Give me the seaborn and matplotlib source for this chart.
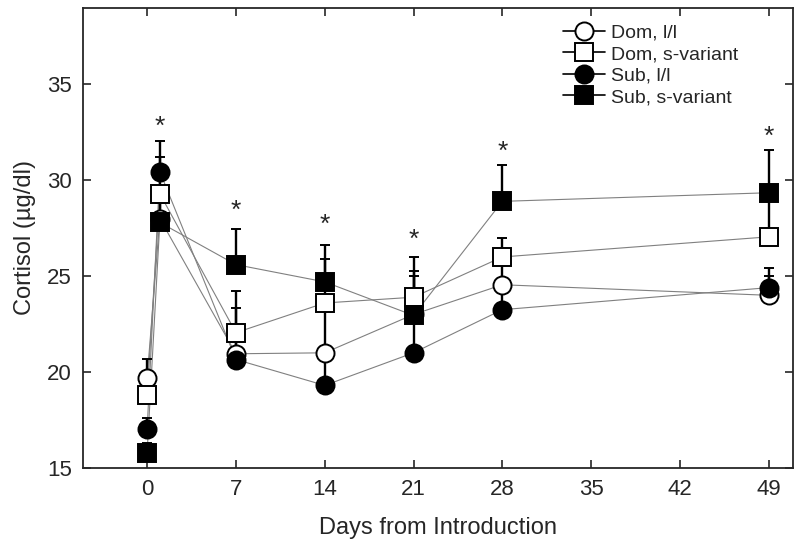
import numpy as np
import pandas as pd
import matplotlib
matplotlib.use('Agg')
import matplotlib.pyplot as plt
import seaborn as sns
from matplotlib.lines import Line2D

# --- data ---
days = [0, 1, 7, 14, 21, 28, 49]
dom_ll = [19.7, 28.0, 20.95, 21.0, 23.0, 24.55, 24.0]
dom_s = [18.8, 29.3, 22.05, 23.6, 23.9, 26.0, 27.05]
sub_ll = [17.0, 30.45, 20.65, 19.3, 21.0, 23.25, 24.4]
sub_s = [15.8, 27.8, 25.6, 24.7, 22.95, 28.9, 29.35]

# upper error bars (one-sided)
dom_ll_err = [1.0, 1.0, 2.4, 2.6, 2.0, 1.5, 1.0]
dom_s_err = [0.8, 1.9, 2.15, 2.3, 2.1, 1.0, 2.3]
sub_ll_err = [0.6, 1.6, 1.0, 1.7, 2.0, 1.5, 1.0]
sub_s_err = [0.5, 1.0, 1.85, 1.9, 2.3, 1.9, 2.25]

star_days = [1, 7, 14, 21, 28, 49]
star_y = [32.8, 28.4, 27.65, 26.9, 31.5, 32.25]

labels = ['Dom, l/l', 'Dom, s-variant', 'Sub, l/l', 'Sub, s-variant']
markers = ['o', 's', 'o', 's']
faces = ['white', 'white', 'black', 'black']
series = [dom_ll, dom_s, sub_ll, sub_s]
errors = [dom_ll_err, dom_s_err, sub_ll_err, sub_s_err]

rows = []
for lab, vals, errs in zip(labels, series, errors):
    for d, v, e in zip(days, vals, errs):
        rows.append({'day': d, 'cortisol': v, 'err': e, 'group': lab})
df = pd.DataFrame(rows)

sns.set_style('ticks')
plt.rcParams['font.family'] = ['Liberation Sans', 'DejaVu Sans']

fig = plt.figure(figsize=(8, 5.53), dpi=100)
ax = fig.add_axes([0.104, 0.154, 0.887, 0.832])

# gray connecting lines
sns.lineplot(data=df, x='day', y='cortisol', hue='group', hue_order=labels,
             palette=['#808080'] * 4, linewidth=0.8, legend=False, ax=ax,
             estimator=None, sort=True, zorder=1)

# error bars, upward only
for lab in labels:
    sub = df[df['group'] == lab]
    ax.errorbar(sub['day'], sub['cortisol'], yerr=[np.zeros(len(sub)), sub['err']],
                fmt='none', ecolor='black', elinewidth=1.7, capsize=3.5,
                capthick=1.4, zorder=2)

# markers
for i, (lab, m, fc) in enumerate(zip(labels, markers, faces)):
    sub = df[df['group'] == lab]
    ms = 13 if m == 'o' else 13
    ax.plot(sub['day'], sub['cortisol'], linestyle='none', marker=m,
            markersize=ms, markerfacecolor=fc, markeredgecolor='black',
            markeredgewidth=1.4, zorder=3 + i)

for d, y in zip(star_days, star_y):
    ax.text(d, y, '*', ha='center', va='center', fontsize=19)

ax.set_xlim(-5.04, 50.9)
ax.set_ylim(15, 39.0)
ax.set_xticks([0, 7, 14, 21, 28, 35, 42, 49])
ax.set_yticks([15, 20, 25, 30, 35])
ax.tick_params(direction='in', top=True, right=True, length=6, width=1.2,
               labelsize=16, pad=8)
for sp in ax.spines.values():
    sp.set_linewidth(1.3)
ax.set_xlabel('Days from Introduction', fontsize=17, labelpad=12)
ax.set_ylabel('Cortisol (\u00b5g/dl)', fontsize=17, labelpad=8)

handles = [Line2D([0], [0], color='black', lw=1.2, marker=m, markersize=13,
                  markerfacecolor=fc, markeredgecolor='black', markeredgewidth=1.4)
           for m, fc in zip(markers, faces)]
ax.legend(handles, labels, loc='upper right', bbox_to_anchor=(0.94, 0.99),
          frameon=False, fontsize=14, handlelength=2.2, handletextpad=0.3,
          labelspacing=0.2, borderaxespad=0.2)

fig.savefig('out.png', dpi=100)
